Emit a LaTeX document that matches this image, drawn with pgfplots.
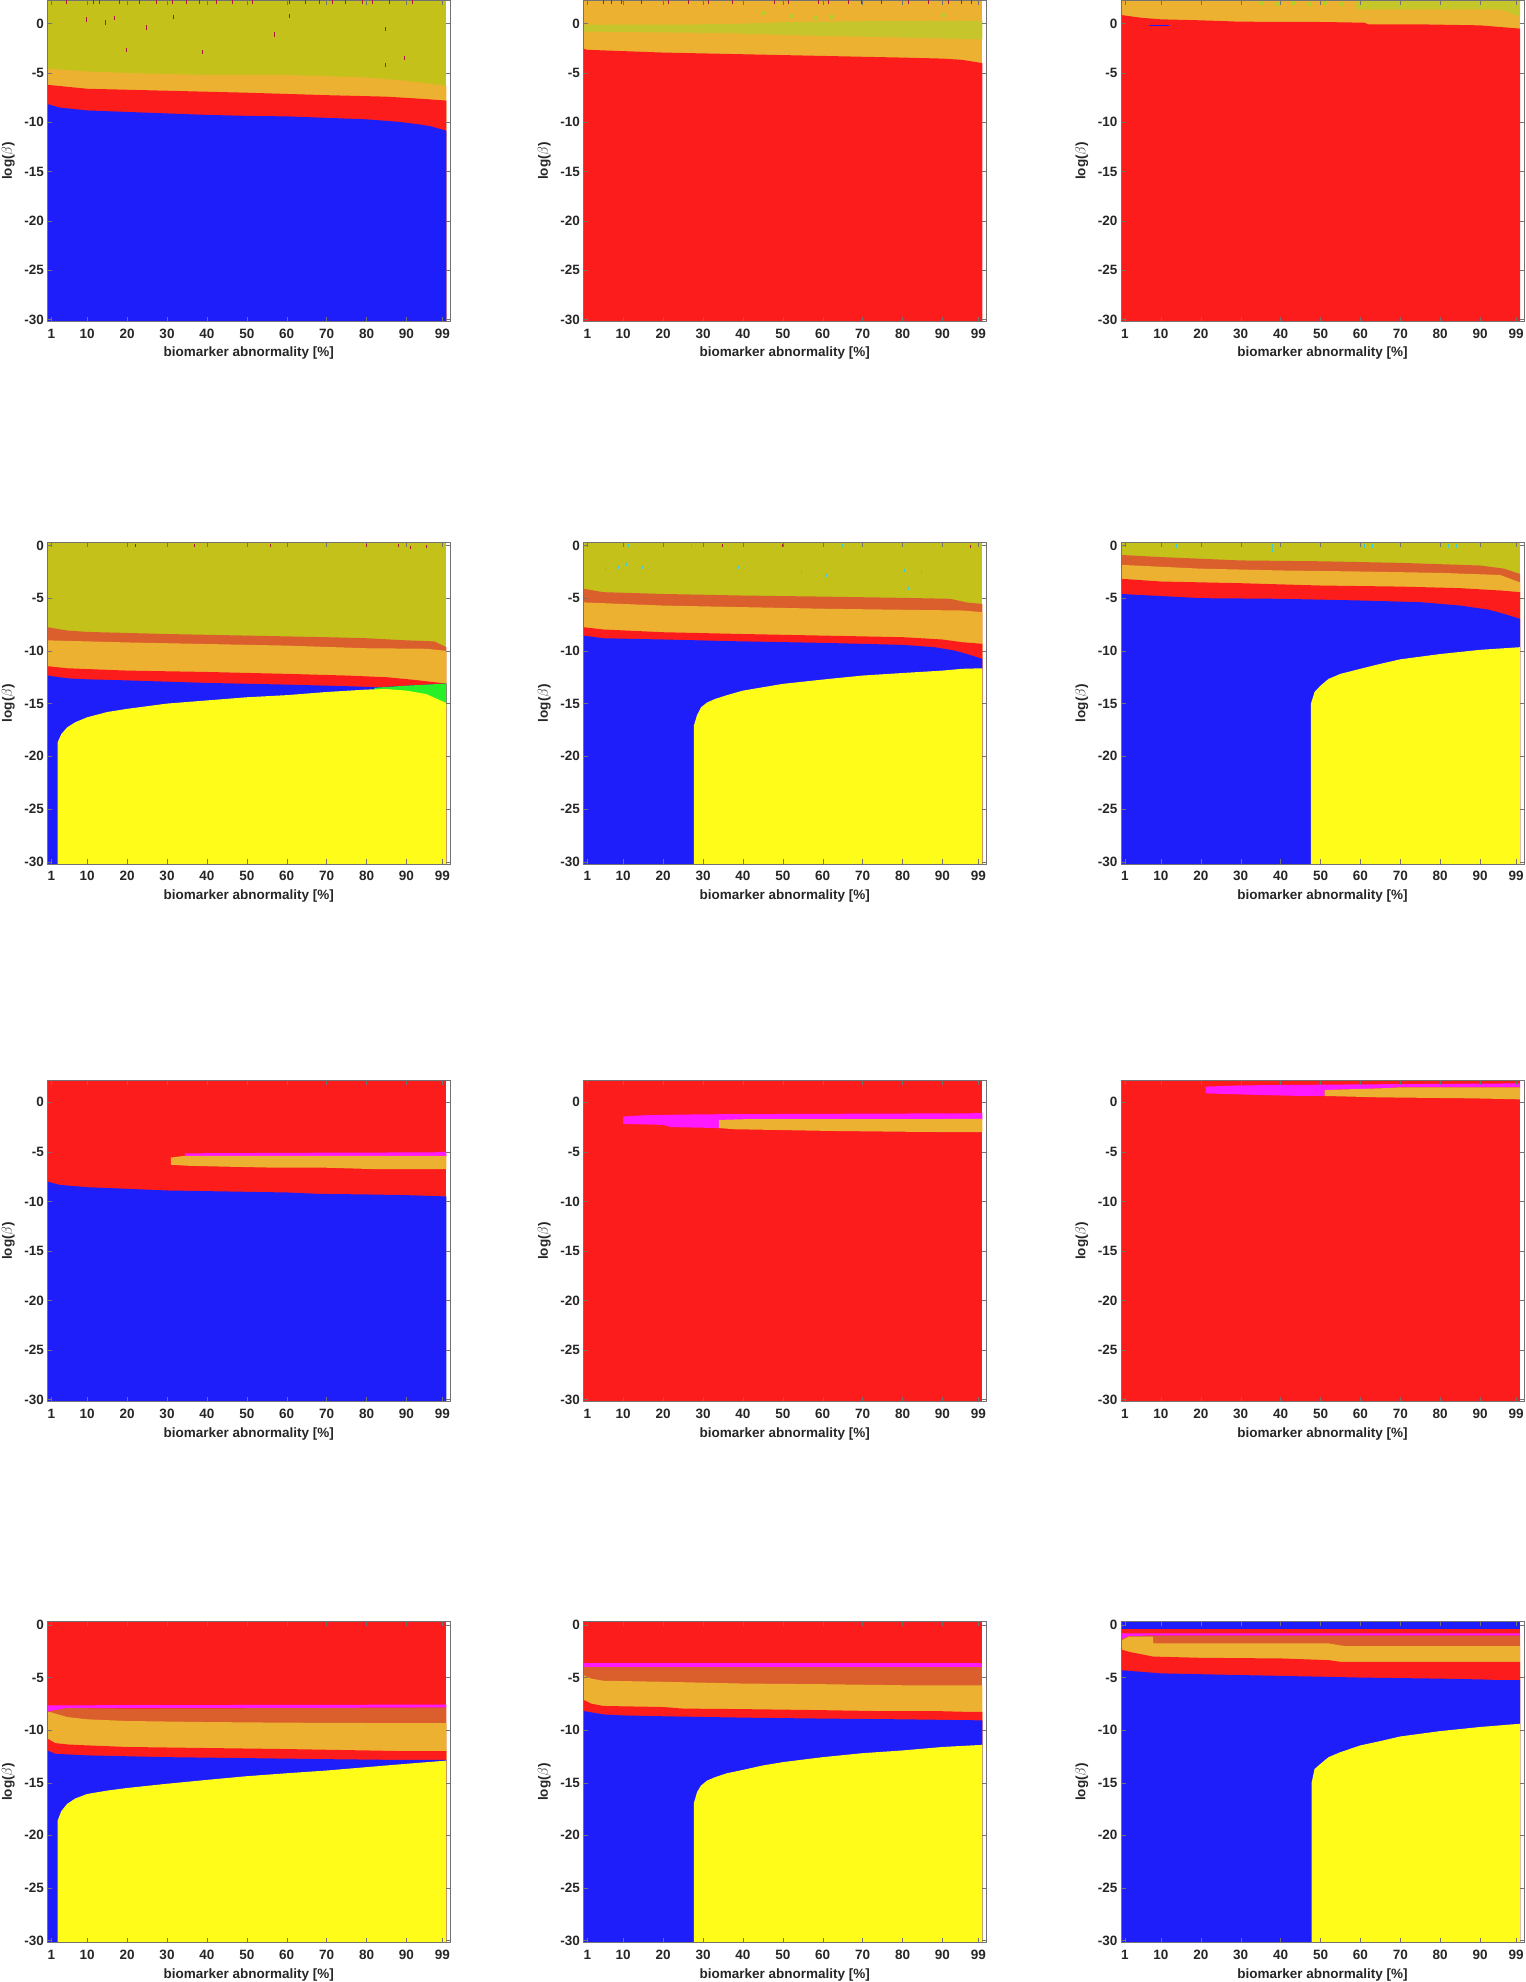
\documentclass[border=0pt]{standalone}
\usepackage{fontspec}
\setmainfont{Liberation Sans}
\usepackage{pgfplots}
\pgfplotsset{compat=1.18}
\definecolor{cOlive}{RGB}{196,193,27}
\definecolor{cLor}{RGB}{237,177,50}
\definecolor{cDor}{RGB}{218,95,45}
\definecolor{cRed}{RGB}{252,28,28}
\definecolor{cBlue}{RGB}{30,30,250}
\definecolor{cYel}{RGB}{255,252,25}
\definecolor{cGreen}{RGB}{40,240,40}
\definecolor{cMag}{RGB}{255,25,255}
\definecolor{cLgr}{RGB}{182,205,40}
\definecolor{cDred}{RGB}{165,30,60}
\definecolor{cCyan}{RGB}{60,200,220}
\newcommand{\bg}[1]{\addplot[draw=none,fill=#1] coordinates {(0,4)(100,4)(100,-31)(0,-31)} -- cycle;}
\newcommand{\below}[2]{\addplot[draw=none,fill=#1] coordinates {#2 (100,-31)(0,-31)} -- cycle;}
\newcommand{\poly}[2]{\addplot[draw=none,fill=#1] coordinates {#2} -- cycle;}
\pgfplotsset{
  panel/.style={
    width=403pt, height=321.5pt, scale only axis, anchor=north west,
    xmin=0, xmax=101, ymin=-30.2,
    xtick={1,10,20,30,40,50,60,70,80,90,99},
    xticklabels={1,10,20,30,40,50,60,70,80,90,99},
    ytick={-30,-25,-20,-15,-10,-5,0},
    yticklabels={-30,-25,-20,-15,-10,-5,0},
    axis on top, tick align=inside, major tick length=4.5pt,
    axis line style={black!55}, every tick/.style={black!55},
    tick label style={font=\fontsize{13.5}{16}\selectfont\bfseries, text=black!85},
    xticklabel style={yshift=-4pt},
    xlabel={biomarker abnormality [\%]},
    ylabel={log(\textnormal{$\beta$})},
    label style={font=\fontsize{13.5}{16}\selectfont\bfseries, text=black!85},
    xlabel style={at={(axis description cs:0.5,-0.0995)}, anchor=center},
    ylabel style={at={(axis description cs:-0.097,0.5)}, anchor=center},
  },
  spk/.style={only marks, mark=|, mark size=2.2pt, mark options={line width=1pt}, color=cDred},
  cspk/.style={only marks, mark=|, mark size=1.6pt, mark options={line width=1pt}, color=cCyan},
}
\begin{document}
\begin{tikzpicture}
\useasboundingbox (0pt,0pt) rectangle (1526pt,-1982pt);
% ---------------- Row 1 ----------------
\begin{axis}[panel, at={(47.3pt,0pt)}, ymax=2.4]
\bg{cOlive}
\below{cLor}{(0,-4.55)(10,-4.85)(20,-5.0)(40,-5.2)(60,-5.2)(80,-5.45)(90,-5.8)(95,-6.05)(100,-6.3)}
\below{cRed}{(0,-6.2)(10,-6.6)(30,-6.8)(50,-7.0)(70,-7.25)(85,-7.4)(95,-7.65)(100,-7.8)}
\below{cBlue}{(0,-8.15)(3,-8.5)(10,-8.8)(20,-8.95)(30,-9.1)(40,-9.25)(50,-9.35)(60,-9.4)(70,-9.55)(80,-9.7)(88,-9.95)(93,-10.2)(96,-10.4)(100,-10.85)}
\addplot[spk] coordinates {(4.8,2.2)(11.5,2.25)(13.2,2.2)(18.2,2.25)(23.2,2.2)(27.3,2.25)(31.5,2.2)(34.8,2.25)(38.2,2.2)(42.3,2.25)(46.5,2.2)(51.5,2.25)(60.7,2.2)(64.8,2.25)(68.2,2.2)(71.5,2.25)(74.8,2.2)(79,2.25)(81.5,2.2)(85.7,2.25)(91.5,2.2)
(9.8,0.44)(14.7,0.1)(16.9,0.6)(19.8,-2.66)(24.8,-0.4)(31.75,0.7)(38.8,-2.9)(56.9,-1.08)(60.8,0.78)(84.8,-0.57)(84.8,-4.2)(89.4,-3.5)};
\end{axis}
\begin{axis}[panel, at={(583.3pt,0pt)}, ymax=2.4]
\bg{cLor}
\poly{cLgr!70!cLor}{(0,-0.1)(25,-0.1)(40,0.0)(50,0.15)(70,0.25)(100,0.3)(100,-1.6)(80,-1.4)(55,-1.2)(35,-0.95)(0,-0.8)}
\addplot[only marks, mark=square*, mark size=1.5pt, color=cLgr] coordinates {(45,1.1)(52,0.8)(58,0.6)(62,0.7)(90,0.9)};
\below{cRed}{(0,-2.53)(1,-2.65)(20,-2.93)(40,-3.1)(60,-3.27)(80,-3.44)(90,-3.54)(95,-3.67)(100,-4.0)}
\addplot[spk] coordinates {(5,2.25)(7,2.25)(9.5,2.25)(14.7,2.25)(21.3,2.25)(26.4,2.25)(31.4,2.25)(37.3,2.25)(48,2.25)(51.5,2.25)(59,2.25)(61.5,2.25)(66.4,2.25)(69.7,2.25)(74.8,2.25)(81.4,2.25)(86.4,2.25)(91.4,2.25)(94.8,2.25)(97.3,2.25)};
\end{axis}
\begin{axis}[panel, at={(1121pt,0pt)}, ymax=2.4]
\bg{cLor}
\poly{cLgr!75!cLor}{(59,2.4)(100,2.4)(100,0.7)(97,1.2)(95,1.45)(59,1.45)}
\addplot[only marks, mark=square*, mark size=1.6pt, color=cLgr] coordinates {(35,2.1)(39,2.0)(43,2.1)(47,2.0)(51,2.1)(55,2.0)};
\below{cRed}{(0,0.88)(5,0.6)(10,0.44)(20,0.34)(30,0.2)(50,0.17)(61,0.1)(62,-0.07)(75,-0.07)(90,-0.17)(95,-0.34)(100,-0.5)}
\poly{cBlue}{(7,-0.12)(12,-0.12)(12,-0.28)(7,-0.28)}
\end{axis}
% ---------------- Row 2 ----------------
\begin{axis}[panel, at={(47.3pt,-542.3pt)}, ymax=0.3]
\bg{cOlive}
\below{cDor}{(0,-7.75)(5,-8.07)(10,-8.2)(30,-8.4)(50,-8.55)(70,-8.7)(80,-8.8)(90,-9.0)(97,-9.1)(100,-9.65)}
\below{cLor}{(0,-9.0)(20,-9.2)(40,-9.35)(60,-9.5)(80,-9.75)(95,-9.8)(100,-10.0)}
\below{cRed}{(0,-11.45)(5,-11.65)(20,-11.87)(40,-12.0)(60,-12.18)(75,-12.34)(85,-12.5)(92,-12.75)(100,-13.1)}
\below{cBlue}{(0,-12.34)(5,-12.6)(10,-12.7)(20,-12.8)(40,-13.04)(60,-13.2)(75,-13.35)(83,-13.45)(90,-13.3)(100,-13.1)}
\poly{cGreen}{(82,-13.5)(90,-13.3)(100,-13.1)(100,-15.3)(85,-13.9)(82,-13.8)}
\poly{cYel}{(2.6,-31)(2.6,-18.67)(3.5,-17.9)(5,-17.25)(7,-16.77)(10,-16.3)(15,-15.8)(20,-15.5)(30,-15.0)(40,-14.7)(50,-14.4)(60,-14.2)(70,-13.9)(80,-13.67)(85,-13.62)(90,-13.77)(95,-14.1)(100,-14.95)(100,-31)}
\addplot[spk, mark size=1.4pt] coordinates {(22,0.0)(37,0.0)(56,0.0)(80,0.0)(88,0.0)(91,-0.2)(95,-0.1)};
\end{axis}
\begin{axis}[panel, at={(583.3pt,-542.3pt)}, ymax=0.3]
\bg{cOlive}
\below{cDor}{(0,-4.1)(5,-4.43)(20,-4.6)(40,-4.75)(60,-4.85)(80,-4.97)(92,-5.06)(96,-5.4)(100,-5.55)}
\below{cLor}{(0,-5.4)(20,-5.7)(40,-5.85)(60,-6.0)(80,-6.1)(95,-6.17)(100,-6.33)}
\below{cRed}{(0,-7.75)(5,-7.97)(20,-8.23)(40,-8.4)(60,-8.55)(80,-8.7)(90,-8.92)(95,-9.18)(100,-9.33)}
\below{cBlue}{(0,-8.55)(5,-8.8)(20,-8.92)(40,-9.1)(60,-9.24)(80,-9.43)(88,-9.65)(93,-9.97)(96,-10.28)(100,-10.76)}
\poly{cYel}{(27.7,-31)(27.7,-17.1)(28.5,-16.1)(29.5,-15.35)(31,-14.9)(33,-14.56)(36,-14.2)(40,-13.77)(45,-13.45)(50,-13.13)(60,-12.72)(70,-12.34)(80,-12.1)(90,-11.87)(95,-11.7)(100,-11.65)(100,-31)}
\addplot[cspk] coordinates {(5.6,-2.2)(8.75,-2.06)(10.75,-1.84)(14.75,-2.06)(38.9,-2.06)(54.75,-2.53)(61,-2.85)(80.6,-2.37)(81.4,-4.1)(84.75,-2.53)(11.4,0.0)(27,0.0)(65,0.0)};
\addplot[spk, mark size=1.4pt] coordinates {(35,0.0)(50,0.0)(97,-0.1)};
\end{axis}
\begin{axis}[panel, at={(1121pt,-542.3pt)}, ymax=0.3]
\bg{cOlive}
\below{cDor}{(0,-0.9)(10,-1.1)(30,-1.42)(50,-1.5)(70,-1.65)(90,-1.9)(96,-2.2)(100,-2.7)}
\below{cLor}{(0,-1.84)(20,-2.2)(40,-2.37)(60,-2.47)(80,-2.6)(95,-2.8)(100,-3.5)}
\below{cRed}{(0,-3.16)(10,-3.42)(30,-3.58)(50,-3.8)(70,-3.9)(85,-4.05)(95,-4.27)(100,-4.43)}
\below{cBlue}{(0,-4.6)(10,-4.8)(20,-5.0)(40,-5.06)(60,-5.22)(75,-5.38)(85,-5.7)(92,-6.08)(96,-6.49)(100,-6.96)}
\poly{cYel}{(47.6,-31)(47.6,-15.0)(48.5,-13.9)(50,-13.3)(52,-12.66)(55,-12.18)(60,-11.7)(65,-11.23)(70,-10.8)(80,-10.3)(90,-9.9)(100,-9.65)(100,-31)}
\addplot[cspk] coordinates {(14,-0.05)(38,-0.05)(61,-0.05)(63,-0.05)(82,-0.05)(84,-0.05)(38,-0.5)};
\end{axis}
% ---------------- Row 3 ----------------
\begin{axis}[panel, at={(47.3pt,-1080pt)}, ymax=2.25]
\bg{cRed}
\poly{cMag}{(34.5,-5.15)(60,-5.1)(97,-5.05)(100,-4.97)(100,-5.45)(34.5,-5.45)}
\poly{cLor}{(31,-5.57)(34.5,-5.4)(60,-5.4)(100,-5.4)(100,-6.75)(82,-6.75)(80,-6.72)(68,-6.58)(55,-6.58)(43,-6.48)(35,-6.4)(31,-6.3)}
\below{cBlue}{(0,-8.0)(3,-8.33)(10,-8.57)(20,-8.73)(30,-8.9)(45,-9.0)(60,-9.1)(68,-9.24)(80,-9.3)(90,-9.37)(100,-9.5)}
\end{axis}
\begin{axis}[panel, at={(583.3pt,-1080pt)}, ymax=2.25]
\bg{cRed}
\poly{cMag}{(10,-1.44)(15,-1.31)(30,-1.21)(100,-1.1)(100,-1.75)(34,-1.78)(34,-2.6)(22,-2.5)(20,-2.28)(10,-2.18)}
\poly{cLor}{(34,-1.78)(40,-1.71)(100,-1.68)(100,-3.02)(85,-2.99)(62,-2.89)(48,-2.79)(38,-2.72)(34,-2.6)}
\end{axis}
\begin{axis}[panel, at={(1121pt,-1080pt)}, ymax=2.25]
\bg{cRed}
\poly{cMag}{(21.2,1.58)(30,1.71)(60,1.81)(100,1.91)(100,1.51)(70,1.51)(65,1.41)(51,1.24)(51,0.64)(45,0.64)(35,0.74)(21.2,0.9)}
\poly{cLor}{(51,1.24)(65,1.41)(70,1.51)(100,1.51)(100,0.3)(88,0.4)(65,0.5)(51,0.64)}
\end{axis}
% ---------------- Row 4 ----------------
\begin{axis}[panel, at={(47.3pt,-1621pt)}, ymax=0.38]
\bg{cRed}
\poly{cMag}{(0,-7.64)(100,-7.57)(100,-7.86)(5,-7.9)(2,-8.1)(0,-8.27)}
\below{cDor}{(0,-8.27)(2,-8.1)(5,-7.9)(20,-7.95)(100,-7.86)}
\below{cLor}{(0,-8.27)(1,-8.3)(2,-8.43)(5,-8.75)(10,-8.97)(20,-9.13)(40,-9.23)(60,-9.29)(80,-9.32)(100,-9.32)}
\below{cRed}{(0,-10.8)(2,-11.23)(5,-11.36)(10,-11.45)(20,-11.6)(40,-11.7)(60,-11.8)(80,-11.93)(90,-12.0)(100,-12.0)}
\below{cBlue}{(0,-11.93)(2,-12.25)(10,-12.4)(30,-12.57)(50,-12.66)(70,-12.76)(85,-12.82)(100,-12.82)}
\poly{cYel}{(2.6,-31)(2.6,-18.6)(3.5,-17.7)(5,-17.0)(7,-16.5)(10,-16.07)(15,-15.75)(20,-15.5)(30,-15.1)(40,-14.73)(50,-14.38)(60,-14.1)(70,-13.84)(80,-13.52)(90,-13.2)(100,-12.9)(100,-31)}
\end{axis}
\begin{axis}[panel, at={(583.3pt,-1621pt)}, ymax=0.38]
\bg{cRed}
\poly{cMag}{(0,-3.66)(100,-3.66)(100,-4.04)(0,-4.04)}
\below{cDor}{(0,-4.04)(100,-4.04)}
\below{cLor}{(0,-4.77)(2,-5.1)(5,-5.3)(20,-5.4)(40,-5.57)(60,-5.63)(80,-5.73)(100,-5.73)}
\below{cRed}{(0,-7.1)(2,-7.48)(5,-7.7)(20,-7.8)(25,-7.95)(40,-8.0)(60,-8.1)(73,-8.18)(90,-8.2)(95,-8.25)(100,-8.27)}
\below{cBlue}{(0,-8.18)(5,-8.5)(10,-8.6)(20,-8.68)(40,-8.81)(60,-8.9)(80,-8.97)(100,-9.07)}
\poly{cYel}{(27.7,-31)(27.7,-16.96)(28.5,-15.9)(29.5,-15.27)(31,-14.8)(33,-14.48)(36,-14.1)(40,-13.78)(45,-13.36)(50,-13.04)(60,-12.57)(70,-12.19)(80,-11.93)(90,-11.6)(100,-11.4)(100,-31)}
\end{axis}
\begin{axis}[panel, at={(1121pt,-1621pt)}, ymax=0.38]
\bg{cBlue}
\below{cRed}{(0,-0.35)(100,-0.35)}
\poly{cMag}{(0,-0.8)(100,-0.8)(100,-1.0)(8,-1.0)(2,-1.05)(0,-1.37)}
\below{cDor}{(0,-1.37)(2,-1.05)(8,-1.0)(100,-1.0)}
\below{cLor}{(0,-1.5)(2,-1.1)(8,-1.1)(8.1,-1.75)(52,-1.75)(56,-2.0)(100,-2.0)}
\below{cRed}{(0,-2.32)(2,-2.55)(8,-3.0)(20,-3.12)(40,-3.18)(52,-3.34)(55,-3.5)(100,-3.5)}
\below{cBlue}{(0,-4.3)(5,-4.45)(10,-4.6)(20,-4.68)(40,-4.84)(52,-4.93)(60,-5.0)(80,-5.1)(92,-5.19)(94,-5.25)(100,-5.25)}
\poly{cYel}{(47.8,-31)(47.8,-14.95)(48.5,-13.7)(50,-13.2)(52,-12.57)(55,-12.09)(60,-11.45)(65,-11.04)(70,-10.6)(80,-10.09)(90,-9.7)(100,-9.39)(100,-31)}
\end{axis}
\end{tikzpicture}
\end{document}
